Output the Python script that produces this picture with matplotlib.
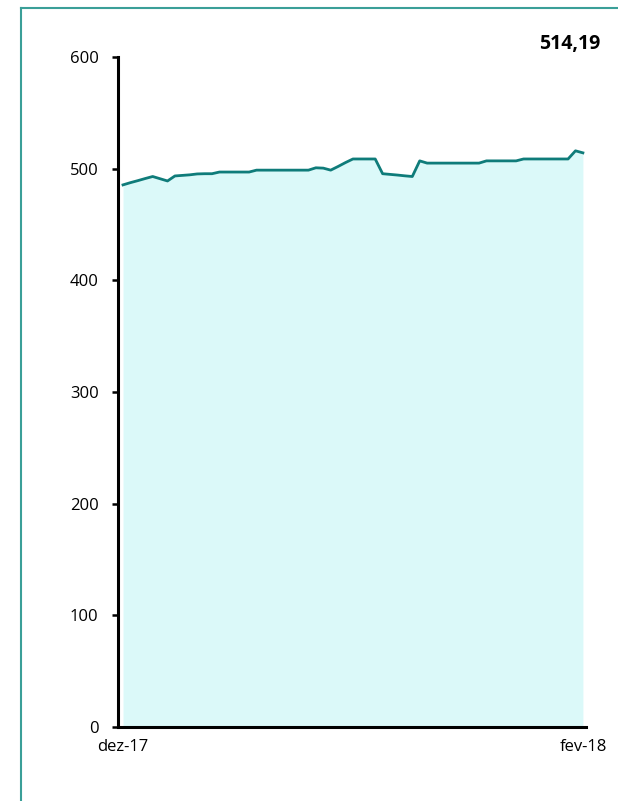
import matplotlib
matplotlib.use("Agg")
import matplotlib.pyplot as plt
from matplotlib.lines import Line2D
import numpy as np

plt.rcParams["font.family"] = ["Open Sans", "DejaVu Sans"]

# daily index values, dez-17 .. fev-18
values = [
    485.5, 487.5, 489.3, 491.2, 493.0, 491.0, 489.0, 493.5, 494.0, 494.5,
    495.3, 495.5, 495.5, 497.0, 497.0, 497.0, 497.0, 497.0, 498.7, 498.7,
    498.7, 498.7, 498.7, 498.7, 498.7, 498.7, 500.8, 500.5, 498.7, 502.0,
    505.5, 508.7, 508.7, 508.7, 508.7, 495.5, 494.9, 494.3, 493.6, 493.0,
    507.0, 505.0, 505.0, 505.0, 505.0, 505.0, 505.0, 505.0, 505.0, 507.0,
    507.0, 507.0, 507.0, 507.0, 508.7, 508.7, 508.7, 508.7, 508.7, 508.7,
    508.7, 516.0, 514.19,
]
x_labels = ["dez-17", "fev-18"]
y_ticks = [0, 100, 200, 300, 400, 500, 600]
last_value = "514,19"

LINE = "#0f7c7a"
FILL = "#dbf9f9"
FRAME = "#3a9f98"

x = np.arange(len(values))

fig = plt.figure(figsize=(6.18, 8.01), dpi=100)
ax = fig.add_axes([0.191, 0.0924, 0.757, 0.8364])

ax.fill_between(x, 0, values, color=FILL, linewidth=0)
ax.plot(x, values, color=LINE, linewidth=2)

ax.set_xlim(-0.67, len(values) - 1 + 0.4)
ax.set_ylim(0, 600)
ax.set_yticks(y_ticks)
ax.set_yticklabels([str(v) for v in y_ticks], fontsize=12)
ax.set_xticks([0, len(values) - 1])
ax.set_xticklabels(x_labels, fontsize=12)

for s in ["top", "right"]:
    ax.spines[s].set_visible(False)
for s in ["left", "bottom"]:
    ax.spines[s].set_linewidth(2.2)
    ax.spines[s].set_color("black")
ax.tick_params(axis="y", length=4, width=1.8, pad=10)
ax.tick_params(axis="x", length=0, pad=9)

fig.text(0.971, 0.945, last_value, ha="right", va="center",
         fontsize=14, fontweight="bold")

# teal frame on the left and top edges
fig.add_artist(Line2D([0.034, 0.034], [0, 0.99], transform=fig.transFigure,
                      color=FRAME, linewidth=1.5))
fig.add_artist(Line2D([0.034, 1.0], [0.99, 0.99], transform=fig.transFigure,
                      color=FRAME, linewidth=1.5))

fig.savefig("out.png", dpi=100)
